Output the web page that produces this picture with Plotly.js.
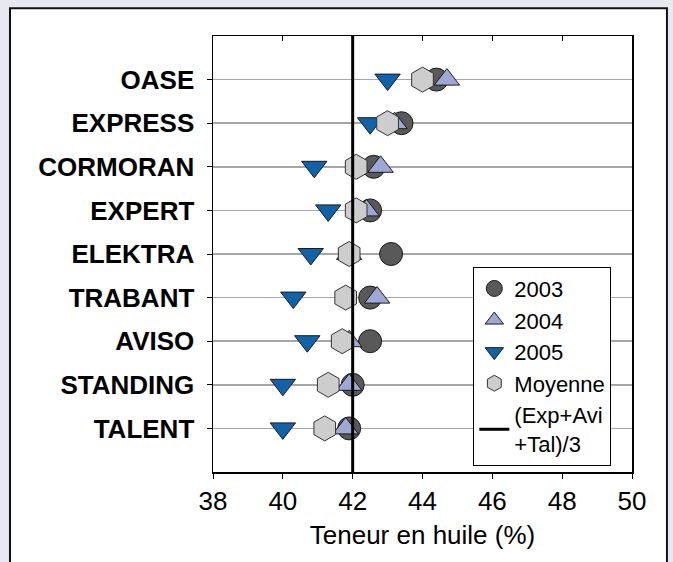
<!DOCTYPE html>
<html>
<head>
<meta charset="utf-8">
<script src="https://cdn.plot.ly/plotly-3.0.1.min.js"></script>
<style>html,body{margin:0;padding:0;background:#E8E8F2;}</style>
</head>
<body>
<div id="chart" style="width:673px;height:562px;"></div>
<script>
// Categories, top to bottom
var categories = ['OASE','EXPRESS','CORMORAN','EXPERT','ELEKTRA','TRABANT','AVISO','STANDING','TALENT'];
// Oil content (%) per year
var y2003 = [44.4, 43.4, 42.6, 42.5, 43.1, 42.5, 42.5, 42.0, 41.9];
var y2004 = [44.7, 43.2, 42.8, 42.4, 41.9, 42.7, 41.9, 41.9, 41.8];
var y2005 = [43.0, 42.5, 40.9, 41.3, 40.8, 40.3, 40.7, 40.0, 40.0];
var moyenne = [44.0, 43.0, 42.1, 42.1, 41.9, 41.8, 41.7, 41.3, 41.2];
// Reference value (Exp+Avi+Tal)/3
var refValue = 42.0;
var xTicks = [38, 40, 42, 44, 46, 48, 50];

var FONT = 'Liberation Sans, Arial, sans-serif';
var edge = {color: '#1a1a1a', width: 1};

var traces = [
  {name: '2003', x: y2003, y: categories, type: 'scatter', mode: 'markers',
   marker: {symbol: 'circle', size: 23, color: '#595959', line: edge}},
  {name: '2004', x: y2004, y: categories, type: 'scatter', mode: 'markers',
   marker: {symbol: 'triangle-up', size: 22, color: '#9EA8D4', line: edge}},
  {name: '2005', x: y2005, y: categories, type: 'scatter', mode: 'markers',
   marker: {symbol: 'triangle-down', size: 22, color: '#1262AA', line: edge}},
  {name: 'Moyenne', x: moyenne, y: categories, type: 'scatter', mode: 'markers',
   marker: {symbol: 'hexagon', size: 25, color: '#CDCDCD', line: {color: '#333', width: 1}}},
  {name: '(Exp+Avi<br>+Tal)/3', x: [refValue, refValue], y: [0, 1], type: 'scatter', mode: 'lines',
   xaxis: 'x2', yaxis: 'y2', line: {color: '#000', width: 3}}
];

var layout = {
  width: 673, height: 562,
  margin: {l: 213, r: 41, t: 36, b: 90, pad: 0},
  paper_bgcolor: '#E8E8F2',
  plot_bgcolor: 'rgba(0,0,0,0)',
  font: {family: FONT, color: '#000'},
  showlegend: true,
  shapes: [{
    type: 'rect', xref: 'paper', yref: 'paper', layer: 'below',
    x0: -0.4845, x1: 1.0834, y0: -0.35, y1: 1.0636,
    fillcolor: '#FFFFFF', line: {color: '#111', width: 2}
  }],
  xaxis: {
    range: [38, 50], tickvals: xTicks, ticks: 'outside', ticklen: 5, tickwidth: 1, tickcolor: '#000',
    showline: true, linecolor: '#000', linewidth: 1.5, mirror: true,
    showgrid: false, zeroline: false,
    tickfont: {family: FONT, size: 26, color: '#000'},
    title: {text: 'Teneur en huile (%)', font: {family: FONT, size: 26, color: '#000'}, standoff: 11}
  },
  xaxis2: {
    range: [38, 50], overlaying: 'x', side: 'top', anchor: 'y2', tickvals: xTicks,
    ticks: 'inside', ticklen: 5, tickcolor: '#000', showticklabels: false,
    showgrid: false, zeroline: false, showline: false
  },
  yaxis: {
    type: 'category', categoryarray: categories.slice().reverse(), range: [-1, 9],
    ticks: 'outside', ticklen: 5, tickcolor: '#000',
    showline: true, linecolor: '#000', linewidth: 1.5, mirror: true,
    showgrid: true, gridcolor: '#A6A6A6', gridwidth: 1.5, zeroline: false,
    tickfont: {family: FONT, size: 26, color: '#000', weight: 'bold'},
    ticklabelstandoff: 7
  },
  yaxis2: {range: [0, 1], overlaying: 'y', visible: false},
  legend: {
    x: 0.6213, y: 0.471, xanchor: 'left', yanchor: 'top',
    bgcolor: '#FFFFFF', bordercolor: '#000', borderwidth: 1,
    font: {family: FONT, size: 22, color: '#000'}
  }
};

Plotly.newPlot('chart', traces, layout, {displayModeBar: false, staticPlot: true});
</script>
</body>
</html>
